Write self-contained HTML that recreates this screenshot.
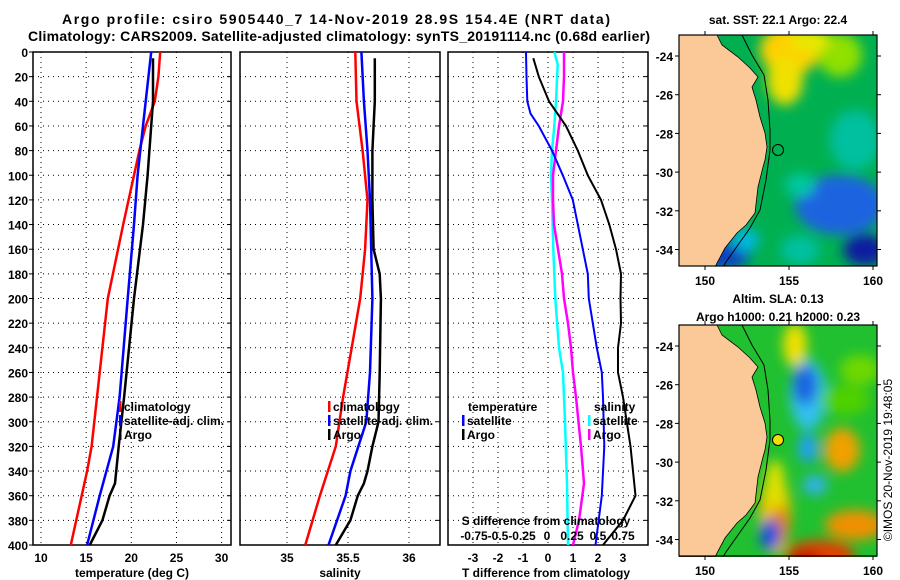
<!DOCTYPE html>
<html><head><meta charset="utf-8"><style>
body{margin:0;background:#fff}
svg{display:block;font-family:"Liberation Sans",sans-serif;font-weight:bold}
</style></head><body>
<svg id="c" width="900" height="580" viewBox="0 0 900 580" xmlns="http://www.w3.org/2000/svg">
<defs><filter id="bl" x="-50%" y="-50%" width="200%" height="200%"><feGaussianBlur stdDeviation="6"/></filter>
<clipPath id="m1"><rect x="679" y="35" width="198" height="231"/></clipPath>
<clipPath id="m2"><rect x="679" y="325" width="198" height="232"/></clipPath></defs>
<text x="336" y="24" font-size="14" text-anchor="middle" textLength="548">Argo profile: csiro 5905440_7 14-Nov-2019 28.9S 154.4E (NRT data)</text>
<text x="339" y="41" font-size="14" text-anchor="middle" textLength="622">Climatology: CARS2009. Satellite-adjusted climatology: synTS_20191114.nc (0.68d earlier)</text>
<g id="plots"></g>
<g id="maps"></g>
<text transform="translate(892,460) rotate(-90)" font-size="12" font-weight="normal" text-anchor="middle">©IMOS 20-Nov-2019 19:48:05</text>
</svg>
<script>
const depthTicks=[0,20,40,60,80,100,120,140,160,180,200,220,240,260,280,300,320,340,360,380,400];
const tTicks=[10,15,20,25,30];
const sTicks=[35,35.5,36];
const sTickLabels=["35","35.5","36"];
const dTTicks=[-3,-2,-1,0,1,2,3];
const dSTicks=[-0.75,-0.5,-0.25,0,0.25,0.5,0.75];
const dSTickLabels=["-0.75","-0.5","-0.25","0","0.25","0.5","0.75"];
const tClimD=[0,20,40,60,80,100,140,200,280,320,340,400];
const tClim=[23.2,23.0,22.6,21.6,20.9,20.3,19.1,17.4,16.2,15.6,15.1,13.3];
const tSatD=[0,40,80,100,140,200,280,320,360,400];
const tSat=[22.2,21.6,21.0,20.7,20.3,19.6,18.7,18.0,16.5,15.1];
const tArgoD=[5,40,60,100,140,200,280,320,350,360,380,400];
const tArgo=[22.4,22.4,22.2,21.8,21.3,20.3,19.2,18.6,18.2,17.6,16.8,15.4];
const sClimD=[0,40,80,120,160,200,240,280,320,360,400];
const sClim=[35.56,35.57,35.62,35.66,35.64,35.60,35.53,35.46,35.40,35.27,35.15];
const sSatD=[0,40,80,120,200,260,300,340,360,400];
const sSat=[35.61,35.63,35.66,35.68,35.70,35.68,35.65,35.52,35.48,35.34];
const sArgoD=[5,40,80,120,160,180,200,260,300,320,340,350,360,380,400];
const sArgo=[35.72,35.72,35.70,35.70,35.71,35.76,35.77,35.76,35.75,35.70,35.66,35.63,35.58,35.52,35.40];
const dTSatD=[0,20,40,50,60,80,100,120,140,160,180,200,220,240,260,280,320,360,400];
const dTSat=[-0.88,-0.86,-0.83,-0.7,-0.37,0.16,0.59,0.99,1.19,1.39,1.59,1.63,1.79,1.95,2.15,2.2,2.25,2.15,1.9];
const dTArgoD=[5,20,40,60,80,100,120,140,160,180,200,220,240,260,280,320,360,380,400];
const dTArgo=[-0.59,-0.37,0.04,0.72,1.19,1.59,2.12,2.45,2.72,2.92,2.9,2.92,2.8,2.8,3.0,3.3,3.5,3.0,2.2];
const dSSatD=[0,10,40,60,80,100,120,160,200,240,260,300,350,400];
const dSSat=[0.063,0.097,0.08,0.063,0.04,0.03,0.04,0.053,0.073,0.11,0.15,0.17,0.19,0.2];
const dSArgoD=[0,20,40,60,80,100,120,140,160,180,200,220,240,260,280,320,350,380,400];
const dSArgo=[0.16,0.16,0.15,0.11,0.08,0.05,0.05,0.06,0.1,0.14,0.16,0.2,0.23,0.25,0.28,0.33,0.36,0.31,0.25];

const NS="http://www.w3.org/2000/svg";
const P=document.getElementById('plots');
function mk(tag,at,parent){const e=document.createElementNS(NS,tag);for(const k in at)e.setAttribute(k,at[k]);(parent||P).appendChild(e);return e;}
const yTop=52,yBot=545;
const yD=d=>yTop+(d/400)*(yBot-yTop);
const xT=t=>41+(t-10)*9.03;
const xS=s=>287+(s-35)*122;
const xDT=t=>548+t*25;
const xDS=s=>548+s*100;
function line(ds,vs,sx,col,w,name){
  const pts=ds.map((d,i)=>sx(vs[i]).toFixed(1)+','+yD(d).toFixed(1)).join(' ');
  const e=mk('polyline',{points:pts,fill:'none',stroke:col,'stroke-width':w});
  
  
}
function txt(x,y,s,str,anchor,name,parent){const e=mk('text',{x:x,y:y,'font-size':s,'text-anchor':anchor||'start'},parent);e.textContent=str;
  
  return e;}
function panel(x0,x1,name){
  const g=mk('g',{});
  
  
  depthTicks.forEach(d=>{mk('line',{x1:x0,x2:x1,y1:yD(d),y2:yD(d),stroke:'#000','stroke-width':1,'stroke-dasharray':'1,4'},g);
    mk('line',{x1:x1-4,x2:x1,y1:yD(d),y2:yD(d),stroke:'#000'},g);});
  mk('rect',{x:x0,y:yTop,width:x1-x0,height:yBot-yTop,fill:'none',stroke:'#000','stroke-width':1.5},g);
  return g;
}
// panel 1
const g1=panel(33,231,'temperature-panel');
depthTicks.forEach(d=>{txt(28,yD(d)+5,12,String(d),'end','depth-tick-label');mk('line',{x1:29,x2:33,y1:yD(d),y2:yD(d),stroke:'#000'});});
tTicks.forEach(t=>{mk('line',{x1:xT(t),x2:xT(t),y1:yTop,y2:yBot,stroke:'#000','stroke-dasharray':'1,4'},g1);txt(xT(t),562,12,String(t),'middle','temperature-tick-label');});
txt(132,577,12,'temperature (deg C)','middle','x-axis-title-temperature');
line(tClimD,tClim,xT,'#f00',2.5,'temperature-climatology-line');
line(tSatD,tSat,xT,'#00f',2.5,'temperature-satellite-line');
line(tArgoD,tArgo,xT,'#000',2.5,'temperature-argo-line');
// panel 2
const g2=panel(240,440,'salinity-panel');
sTicks.forEach((s,i)=>{mk('line',{x1:xS(s),x2:xS(s),y1:yTop,y2:yBot,stroke:'#000','stroke-dasharray':'1,4'},g2);txt(xS(s),562,12,sTickLabels[i],'middle','salinity-tick-label');});
txt(340,577,12,'salinity','middle','x-axis-title-salinity');
line(sClimD,sClim,xS,'#f00',2.5,'salinity-climatology-line');
line(sSatD,sSat,xS,'#00f',2.5,'salinity-satellite-line');
line(sArgoD,sArgo,xS,'#000',2.5,'salinity-argo-line');
// panel 3
const g3=panel(448,648,'difference-panel');
dTTicks.forEach(t=>mk('line',{x1:xDT(t),x2:xDT(t),y1:yTop,y2:yBot,stroke:'#000','stroke-dasharray':'1,4'},g3));
dTTicks.forEach(t=>txt(xDT(t),562,12,String(t),'middle','t-diff-tick-label'));
txt(546,577,12,'T difference from climatology','middle','x-axis-title-t-diff');
line(dSSatD,dSSat,xDS,'#0ff',2.5,'salinity-diff-satellite-line');
line(dSArgoD,dSArgo,xDS,'#f0f',2.5,'salinity-diff-argo-line');
line(dTSatD,dTSat,xDT,'#00f',2,'temperature-diff-satellite-line');
line(dTArgoD,dTArgo,xDT,'#000',2,'temperature-diff-argo-line');
txt(546,525,12,'S difference from climatology','middle','s-diff-axis-title');
dSTicks.forEach((s,i)=>{const xs=[474,498,522,547,572,598,623];txt(xs[i],540,12,dSTickLabels[i],'middle','s-diff-tick-label');});
// legends
function leg(x,y,col,label){mk('rect',{x:x,y:y-10,width:2.5,height:11,fill:col});txt(x+5,y,12,label,'start','legend-entry');}
leg(119,411,'#f00','climatology');leg(119,425,'#00f','satellite-adj. clim.');leg(119,439,'#000','Argo');
leg(328,411,'#f00','climatology');leg(328,425,'#00f','satellite-adj. clim.');leg(328,439,'#000','Argo');
txt(468,411,12,'temperature','start','legend-title-temperature');leg(462,425,'#00f','satellite');leg(462,439,'#000','Argo');
txt(594,411,12,'salinity','start','legend-title-salinity');leg(588,425,'#0ff','satellite');leg(588,439,'#f0f','Argo');

// maps
const M=document.getElementById('maps');
const coast=[[717,35],[722,45],[738,57],[750,68],[758,77],[752,87],[756,100],[760,117],[765,133],[767,147],[765,160],[763,167],[758,187],[755,213],[746,225],[737,233],[725,248],[717,263],[715,267]];
const shelfPts=[[742,35],[752,55],[764,75],[768,100],[770,130],[770,150],[766,180],[760,210],[750,228],[738,245],[726,262],[723,267]];
function map(off,blobs,base,title1,title2,name,circleFill,clip){
  const g=mk('g',{'clip-path':'url(#'+clip+')'},M);
  
  
  mk('rect',{x:679,y:35+off,width:198,height:232,fill:base},g);
  const bg=mk('g',{filter:'url(#bl)'},g);
  blobs.forEach(b=>mk('ellipse',{cx:b[0],cy:b[1]+off,rx:b[2],ry:b[3],fill:b[4]},bg));
  mk('polyline',{points:shelfPts.map(p=>p[0]+','+(p[1]+off)).join(' '),fill:'none',stroke:'#000','stroke-width':1},g);
  const land='679,'+(35+off)+' '+coast.map(p=>p[0]+','+(p[1]+off)).join(' ')+' 679,'+(267+off);
  mk('polygon',{points:land,fill:'#fbc898',stroke:'#000','stroke-width':0.8},g);
  mk('rect',{x:679,y:35+off,width:198,height:231,fill:'none',stroke:'#000','stroke-width':1.2},M);
  mk('circle',{cx:778,cy:150+off,r:5.5,fill:circleFill,stroke:'#000','stroke-width':1},M);
  [150,155,160].forEach((l,i)=>{const x=705+i*84;mk('line',{x1:x,x2:x,y1:266+off,y2:270+off,stroke:'#000'},M);mk('line',{x1:x,x2:x,y1:35+off,y2:31+off,stroke:'#000'},M);txt(x,(off?575:285),12,String(l),'middle','map-lon-label',M);});
  [-24,-26,-28,-30,-32,-34].forEach((l,i)=>{const y=(off?346:56)+i*38.7;mk('line',{x1:675,x2:679,y1:y,y2:y,stroke:'#000'},M);mk('line',{x1:877,x2:881,y1:y,y2:y,stroke:'#000'},M);txt(673,y+5,12,String(l),'end','map-lat-label',M);});
  txt(778,off?303:24,12,title1,'middle','map-title',M);
  if(title2)txt(778,off+31,12,title2,'middle','map-subtitle',M);
}
map(0,[[790,50,30,25,'#ffd000'],[785,80,18,25,'#f0e000'],[840,55,22,22,'#90e000'],[810,40,20,12,'#e8e800'],
 [855,140,25,30,'#00c0a0'],[840,205,45,30,'#1e64e0'],[865,250,22,16,'#0a1aa0'],[725,255,25,14,'#1040c0'],[745,240,14,12,'#00b8e0'],[800,185,15,12,'#00c8a0'],[800,250,20,15,'#00c0a0']],
 '#00b050','sat. SST: 22.1 Argo: 22.4',null,'sst-map','none','m1');
map(290,[[795,55,12,22,'#f0e000'],[808,105,18,35,'#30c0f0'],[805,95,12,20,'#1e64e0'],[808,158,10,15,'#20a0f0'],
 [842,160,18,22,'#f0a000'],[775,225,16,40,'#f0c000'],[780,235,10,18,'#e08000'],[820,265,35,15,'#e04000'],[805,270,15,8,'#b00000'],
 [855,235,30,15,'#f09000'],[770,245,10,16,'#1050e0'],[815,195,12,10,'#30b0f0'],[860,80,20,15,'#70d800'],[845,110,25,15,'#50d000'],[775,195,10,25,'#e0e000']],
 '#20c030','Altim. SLA: 0.13','Argo h1000: 0.21 h2000: 0.23','sla-map','#f0e000','m2');
</script>
</body></html>
